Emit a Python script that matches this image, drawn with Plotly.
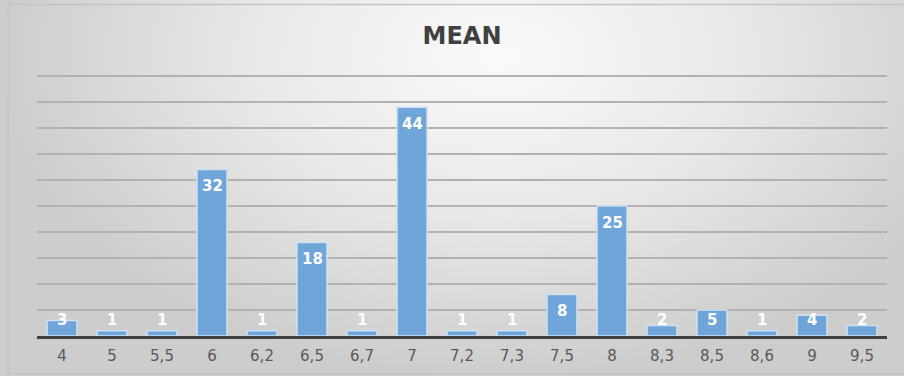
import plotly.graph_objects as go

# Frequency of each mean score
categories = ["4", "5", "5,5", "6", "6,2", "6,5", "6,7", "7", "7,2", "7,3",
              "7,5", "8", "8,3", "8,5", "8,6", "9", "9,5"]
counts = [3, 1, 1, 32, 1, 18, 1, 44, 1, 1, 8, 25, 2, 5, 1, 4, 2]

W, H = 904, 376
# plot area in pixels (PT is where the 50 gridline sits)
PL, PR, PT, PB = 37, 887, 76, 336
Y_MAX = 50
Y_PAD = 0.3  # small headroom so the top gridline is drawn
px_per_unit = (PB - PT) / Y_MAX

fig = go.Figure()

# soft radial shading behind the chart (drawn on a hidden full-size subplot)
bx = [0.0, 1.1, 1.1, 0.0, 0.0]
by = [0.0, 0.0, 1.7, 1.7, 0.0]
fig.add_trace(go.Scatter(
    x=bx, y=by, xaxis="x", yaxis="y", mode="lines", fill="toself",
    line=dict(width=0),
    fillgradient=dict(type="radial",
                      colorscale=[[0, "#fafafa"], [0.5, "#e8e8e8"], [1, "#cdcdcd"]]),
    hoverinfo="skip", showlegend=False,
))

fig.add_trace(go.Bar(
    x=categories, y=counts, xaxis="x2", yaxis="y2",
    marker=dict(color="#6fa5d8", line=dict(color="#cfe1f3", width=1.5)),
    hoverinfo="x+y", showlegend=False,
))

# value labels: just inside the bar top, lifted above very short bars
annotations = []
for i, v in enumerate(counts):
    drop = min(16.7, v * px_per_unit - 16)
    annotations.append(dict(
        x=i, y=v, xref="x2", yref="y2", text=str(v), showarrow=False,
        yanchor="middle", yshift=-drop,
        font=dict(family="DejaVu Sans", size=15, color="white", weight="bold"),
    ))

top_px = PT - Y_PAD * px_per_unit

fig.update_layout(
    width=W, height=H,
    margin=dict(l=0, r=0, t=0, b=0),
    paper_bgcolor="white",
    plot_bgcolor="rgba(0,0,0,0)",
    bargap=0.4,
    title=dict(text="MEAN", x=(PL + PR) / 2 / W, xanchor="center",
               y=1 - 35.5 / H, yanchor="middle", yref="container",
               font=dict(family="DejaVu Sans", size=24, color="#404040", weight="bold")),
    xaxis=dict(domain=[0, 1], range=[0, 1], visible=False, fixedrange=True),
    yaxis=dict(domain=[0, 1], range=[0, 1], visible=False, fixedrange=True),
    xaxis2=dict(domain=[PL / W, PR / W], anchor="y2", type="category",
                showline=True, linecolor="#404040", linewidth=3,
                ticks="", showgrid=False, automargin=False, ticklabelstandoff=4,
                tickfont=dict(family="DejaVu Sans", size=15, color="#595959")),
    yaxis2=dict(domain=[1 - PB / H, 1 - top_px / H], anchor="x2",
                range=[0, Y_MAX + Y_PAD], tick0=0, dtick=5,
                showticklabels=False, showgrid=True,
                gridcolor="#b2b2b2", gridwidth=1.5, zeroline=False,
                automargin=False),
    annotations=annotations,
    shapes=[dict(type="rect", xref="paper", yref="paper",
                 x0=8.5 / W, x1=1.01, y0=2 / H, y1=1 - 4.5 / H,
                 line=dict(color="#c4c4c4", width=1.5), layer="above")],
)

fig.write_html("out.html")
